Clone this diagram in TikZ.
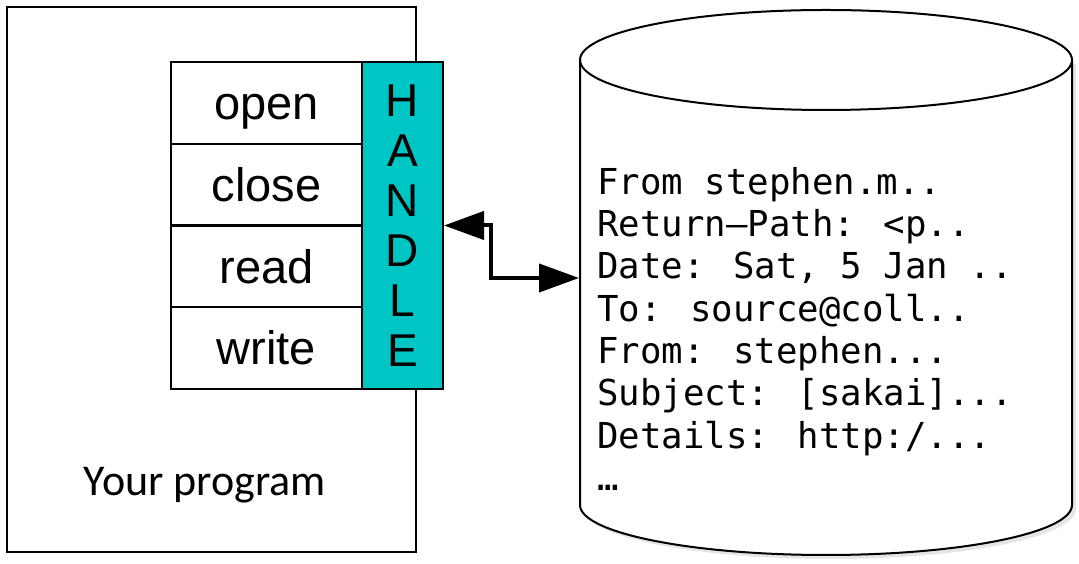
\documentclass[tikz,border=0pt]{standalone}
\usepackage{fontspec}
\setmainfont{Liberation Sans}
\newfontfamily\calibrifont{Carlito}
\newfontfamily\mailfont{DejaVu Sans Mono}
\usetikzlibrary{arrows.meta}
\definecolor{handlecyan}{RGB}{0,197,197}

\begin{document}
\begin{tikzpicture}[x=1pt, y=1pt,
    opbox/.style={draw, line width=2pt, minimum width=191pt, minimum height=82pt, inner sep=0pt, text height=40pt, text depth=6pt, font=\fontsize{47}{50}\selectfont},
    bigtip/.tip={Triangle[length=40pt, width=28pt]}]
    \useasboundingbox (0,0) rectangle (1079,564);

    % Programa
    \node[draw, line width=2pt, minimum width=409pt, minimum height=545pt, inner sep=0pt] (prog) at (211.5,284.5) {};
    \node[font=\calibrifont\fontsize{44}{46}\selectfont] (progname) at (205,79) {Your program};
    \node[opbox] (open) at (266.5,461) {open};
    \node[opbox] (close) at (266.5,379) {close};
    \node[opbox] (read) at (266.5,297.5) {read};
    \node[opbox] (write) at (266.5,216) {write};
    \node[draw, line width=2pt, fill=handlecyan, minimum width=81pt, minimum height=327pt, inner sep=0pt, align=center, font=\fontsize{46}{50}\selectfont] (handle) at (402.5,338.5) {H\\A\\N\\D\\L\\E};

    % Archivo
    \fill[black!10] (584,500) -- (584,55) arc[start angle=180, end angle=360, x radius=246, y radius=50] -- (1076,500) -- cycle;
    \draw[line width=2pt, fill=white] (580,504) -- (580,59) arc[start angle=180, end angle=360, x radius=246, y radius=50] -- (1072,504);
    \draw[line width=2pt] (826,504) ellipse [x radius=246, y radius=50];
    \coordinate (dbside) at (579,286);
    \node[anchor=north west, inner sep=0pt, align=left, font=\mailfont\fontsize{35.7}{42.3}\selectfont] (mail) at (597,397)
        {From stephen.m..\\Return–Path: <p..\\Date: Sat, 5 Jan ..\\To: source@coll..\\From: stephen...\\Subject: [sakai]...\\Details: http:/...\\…};

    \draw[line width=4pt, bigtip-bigtip] (handle.east) -- ++(47,0) |- (dbside);
\end{tikzpicture}
\end{document}
